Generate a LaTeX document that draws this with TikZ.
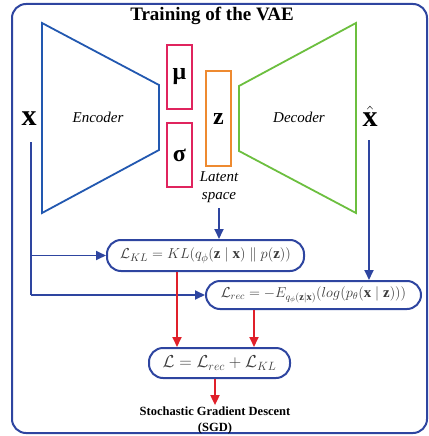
\documentclass[tikz,border=0pt]{standalone}
\usepackage{amsmath}
\usepackage{fontspec}
\setmainfont{Liberation Serif}
\usetikzlibrary{arrows.meta}
\definecolor{fblue}{HTML}{2E45A0}
\definecolor{eblue}{HTML}{2258B0}
\definecolor{dgreen}{HTML}{6CBF3F}
\definecolor{mpink}{HTML}{E0245E}
\definecolor{zorange}{HTML}{EE8A30}
\definecolor{ared}{HTML}{E0202A}
\definecolor{mtext}{HTML}{3A3A3A}
\tikzset{
  x=1pt, y=-1pt,
  frame/.style={draw=fblue, line width=2pt, rounded corners=14pt, minimum width=415pt, minimum height=429pt},
  lossbox/.style={draw=fblue, line width=2pt, rounded corners=14pt, text=mtext, inner sep=0pt},
  latbox/.style={line width=1.8pt, minimum width=25pt, inner sep=0pt, font=\fontsize{24}{26}\selectfont\bfseries},
  barrow/.style={draw=fblue, line width=1.8pt, -{Triangle[length=10pt,width=9pt]}},
  bline/.style={draw=fblue, line width=1.8pt},
  rarrow/.style={draw=ared, line width=1.8pt, -{Triangle[length=10pt,width=9pt]}},
  encs/.style={draw=eblue, line width=1.8pt},
  decs/.style={draw=dgreen, line width=1.8pt},
  lab/.style={font=\fontsize{15}{17}\selectfont\itshape},
}
\begin{document}
\begin{tikzpicture}
\useasboundingbox (0,0) rectangle (428,436);
\node[frame] (frame) at (219.5,218.5) {};
\node[font=\fontsize{19}{21}\selectfont\bfseries] (title) at (212,16) {Training of the VAE};
% encoder / decoder
\draw[encs] (42,23) -- (159,85) -- (159,150) -- (42,213) -- cycle;
\draw[decs] (239,86) -- (356,23) -- (356,213) -- (239,151) -- cycle;
\node[lab] (enc) at (98,117) {Encoder};
\node[lab] (dec) at (299,117) {Decoder};
% latent
\node[latbox, draw=mpink, minimum height=64pt] (mu) at (179.5,77) {μ};
\node[latbox, draw=mpink, minimum height=64pt] (sig) at (179.5,155) {σ};
\node[latbox, draw=zorange, minimum height=95pt] (z) at (218.5,118.5) {$\mathbf{z}$};
\node[font=\fontsize{15}{18}\selectfont\itshape, align=center, inner sep=1pt] (lat) at (219,187) {Latent\\space};
% inputs
\node[font=\fontsize{30}{32}\selectfont, inner sep=1pt] (xin) at (29,119) {$\mathbf{x}$};
\node[font=\fontsize{30}{32}\selectfont, inner sep=1pt] (xhat) at (370,116) {$\hat{\mathbf{x}}$};
% losses
\node[lossbox, minimum width=197pt, minimum height=31pt, font=\fontsize{15}{17}\selectfont] (kl) at (205.5,255.5)
  {$\mathcal{L}_{KL} = KL(q_{\phi}(\mathbf{z}\mid\mathbf{x})\parallel p(\mathbf{z}))$};
\node[lossbox, minimum width=215pt, minimum height=28pt, font=\fontsize{14.8}{17}\selectfont] (rec) at (313.5,295)
  {$\mathcal{L}_{rec} = -E_{q_{\phi}(\mathbf{z}|\mathbf{x})}(log(p_{\theta}(\mathbf{x}\mid\mathbf{z})))$};
\node[lossbox, minimum width=141pt, minimum height=30pt, font=\fontsize{17}{19}\selectfont] (L) at (219.5,363)
  {$\mathcal{L} = \mathcal{L}_{rec} + \mathcal{L}_{KL}$};
\node[font=\fontsize{12.5}{16}\selectfont\bfseries, align=center, inner sep=1pt] (sgd) at (215,420)
  {Stochastic Gradient Descent\\(SGD)};
% connectors
\coordinate (xl) at (31,142);
\coordinate (xr) at (369,140);
\coordinate (lt) at (219,208);
\coordinate (r1) at (177,0);
\coordinate (r2) at (254,0);
\draw[bline] (xl) -- (xl |- rec.west);
\draw[barrow] (xl |- rec.west) -- (rec.west);
\draw[barrow] (xl |- kl.west) -- (kl.west);
\draw[barrow] (xr) -- (xr |- rec.north);
\draw[barrow] (lt) -- (lt |- kl.north);
\draw[rarrow] (kl.south -| r1) -- (L.north -| r1);
\draw[rarrow] (rec.south -| r2) -- (L.north -| r2);
\draw[rarrow] (L.south -| sgd.north) -- (sgd.north);
\end{tikzpicture}
\end{document}
